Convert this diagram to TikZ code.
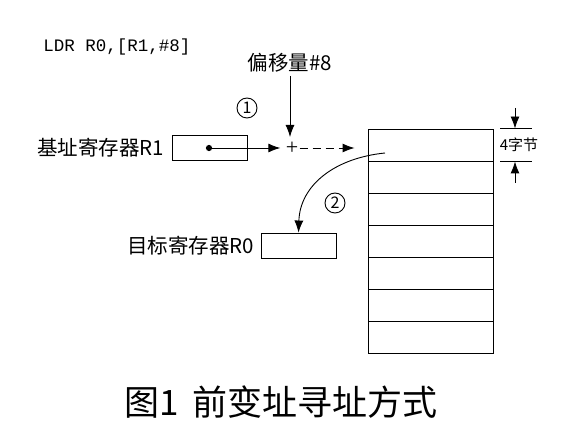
\documentclass[tikz,border=0pt]{standalone}
\usepackage{fontspec}
\setmainfont{Noto Sans CJK SC}
\newfontfamily\monofnt{Liberation Mono}
\newfontfamily\plusfnt{Liberation Serif}
\usepackage{tikz}
\usetikzlibrary{arrows.meta,positioning}
\tikzset{
  reg/.style={draw,minimum width=75pt,minimum height=25pt,inner sep=0pt},
  cell/.style={draw,minimum width=125pt,minimum height=32pt,inner sep=0pt},
  num/.style={draw,circle,minimum size=20pt,inner sep=0pt,font=\fontsize{16}{16}\selectfont},
  lbl/.style={font=\fontsize{20.5}{24}\selectfont,inner sep=0pt},
  arr/.style={-{Latex[length=12pt,width=9pt]}}
}

\begin{document}
\begin{tikzpicture}[x=1pt,y=-1pt,line width=0.9pt]
\useasboundingbox (0,0) rectangle (566,438);
\node[anchor=west,inner sep=0pt,font=\monofnt\fontsize{17.5}{20}\selectfont] (ins) at (43,47) {LDR R0,[R1,\#8]};
\node[lbl] (off) at (290,63) {偏移量\#8};
\node[reg] (r1) at (209.5,147.5) {};
\node[lbl,left=7pt of r1] (r1lbl) {基址寄存器R1};
\node[circle,fill,inner sep=2.2pt] (dot) at (209,148) {};
\node[num] (n1) at (247,108) {1};
\node[inner sep=1pt,font=\plusfnt\fontsize{22}{22}\selectfont] (plus) at (292,148) {+};
\foreach \i in {1,...,7}
  \node[cell] (m\i) at (430.5,{145+32*(\i-1)}) {};
\node[reg] (r0) at (298.5,245.5) {};
\node[lbl,left=6pt of r0] (r0lbl) {目标寄存器R0};
\node[num] (n2) at (335,203) {2};
\coordinate (src) at (385,153);
\coordinate (up) at (515,108);
\coordinate (dn) at (515,183);
\node[inner sep=0pt,font=\fontsize{15}{16}\selectfont] (size) at (519,145) {4字节};
\node[font=\fontsize{35}{40}\selectfont,inner sep=0pt] (cap) at (281,402) {图1\hspace{14pt}前变址寻址方式};
\draw[arr] (off.south) ++(0,3) -- (290,137);
\draw[arr,shorten >=4pt] (dot.center) -- (plus.west);
\draw[arr,dash pattern=on 8pt off 5pt,shorten >=13pt] (plus.east) -- (m1.west |- plus);
\draw[arr] (src) .. controls (335,158) and (300,185) .. (r0.north);
\draw ([xshift=7pt]m1.north east) -- ([xshift=39pt]m1.north east);
\draw ([xshift=7pt]m1.south east) -- ([xshift=39pt]m1.south east);
\draw[arr] (up) -- (up |- m1.north);
\draw[arr] (dn) -- (dn |- m1.south);
\end{tikzpicture}
\end{document}
